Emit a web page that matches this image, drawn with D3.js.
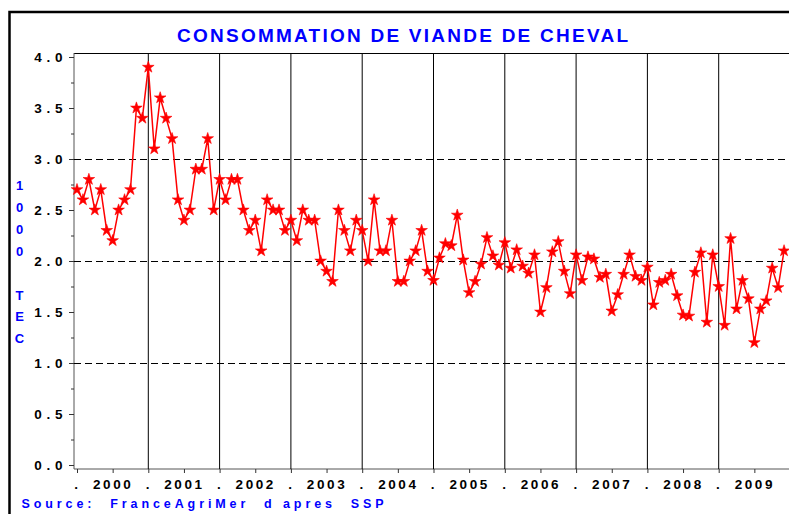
<!DOCTYPE html>
<html>
<head>
<meta charset="utf-8">
<script src="https://cdn.jsdelivr.net/npm/d3@7"></script>
<style>
  body { margin: 0; background: #fff; }
  svg { display: block; font-family: "Liberation Sans", Arial, sans-serif; font-weight: bold; }
</style>
</head>
<body>
<svg id="chart" width="789" height="514"></svg>
<script>
// monthly values, 1000 TEC, jan 2000 -> dec 2009
const startYear = 2000
const v2000 = [2.7, 2.6, 2.8, 2.5, 2.7, 2.3, 2.2, 2.5, 2.6, 2.7, 3.5, 3.4]
const v2001 = [3.9, 3.1, 3.6, 3.4, 3.2, 2.6, 2.4, 2.5, 2.9, 2.9, 3.2, 2.5]
const v2002 = [2.8, 2.6, 2.8, 2.8, 2.5, 2.3, 2.4, 2.1, 2.6, 2.5, 2.5, 2.3]
const v2003 = [2.4, 2.2, 2.5, 2.4, 2.4, 2.0, 1.9, 1.8, 2.5, 2.3, 2.1, 2.4]
const v2004 = [2.3, 2.0, 2.6, 2.1, 2.1, 2.4, 1.8, 1.8, 2.0, 2.1, 2.3, 1.9]
const v2005 = [1.81, 2.03, 2.17, 2.15, 2.45, 2.01, 1.69, 1.80, 1.97, 2.23, 2.05, 1.96]
const v2006 = [2.18, 1.93, 2.11, 1.95, 1.88, 2.06, 1.50, 1.74, 2.09, 2.19, 1.90, 1.68]
const v2007 = [2.06, 1.81, 2.04, 2.02, 1.84, 1.87, 1.51, 1.67, 1.87, 2.06, 1.85, 1.81]
const v2008 = [1.94, 1.57, 1.79, 1.81, 1.87, 1.66, 1.47, 1.46, 1.89, 2.08, 1.40, 2.06]
const v2009 = [1.75, 1.37, 2.22, 1.53, 1.81, 1.63, 1.20, 1.53, 1.61, 1.93, 1.74, 2.10]

const years = [2000, 2001, 2002, 2003, 2004, 2005, 2006, 2007, 2008, 2009]
const yMajor = [0, 0.5, 1, 1.5, 2, 2.5, 3, 3.5, 4]
const yGrid = [1, 2, 3]
const title = "CONSOMMATION DE VIANDE DE CHEVAL"
const yLabel = "1000 TEC"
const source = "Source:  FranceAgriMer  d apres  SSP"

const values = [].concat(v2000, v2001, v2002, v2003, v2004, v2005, v2006, v2007, v2008, v2009)
const data = values.map((v, i) => ({ t: startYear + i / 12, v: v }))

const svg = d3.select('#chart')
const W = 789, H = 514
const plotLeft = 74, plotTop = 53, plotBottom = 469

const x = d3.scaleLinear().domain([2000, 2010]).range([77, 790])
const y = d3.scaleLinear().domain([0, 4]).range([465, 57])

svg.append('rect').attr('width', W).attr('height', H).attr('fill', '#fff')

// outer frame (runs off the right / bottom like the original)
svg.append('rect')
  .attr('x', 9.5).attr('y', 12).attr('width', W + 20).attr('height', H + 20)
  .attr('fill', 'none').attr('stroke', '#000').attr('stroke-width', 2.5)

// title
svg.append('text')
  .attr('x', 177).attr('y', 41.5)
  .attr('textLength', 451).attr('lengthAdjust', 'spacing')
  .attr('fill', '#0000ff').attr('font-size', 19)
  .text(title)

// plot frame lines
svg.append('line').attr('x1', plotLeft).attr('x2', W).attr('y1', plotTop + 0.5).attr('y2', plotTop + 0.5)
  .attr('stroke', '#000')
svg.append('line').attr('x1', plotLeft).attr('x2', W).attr('y1', plotBottom).attr('y2', plotBottom)
  .attr('stroke', '#555')
svg.append('line').attr('x1', plotLeft).attr('x2', plotLeft).attr('y1', plotTop).attr('y2', plotBottom)
  .attr('stroke', '#555')

// horizontal dashed refs
svg.append('g').selectAll('line').data(yGrid).enter().append('line')
  .attr('x1', plotLeft).attr('x2', W)
  .attr('y1', d => y(d) + 0.5).attr('y2', d => y(d) + 0.5)
  .attr('stroke', '#000').attr('stroke-dasharray', '7,4')
  .attr('shape-rendering', 'crispEdges')

// vertical year separators
svg.append('g').selectAll('line').data(years.slice(1)).enter().append('line')
  .attr('x1', d => x(d)).attr('x2', d => x(d))
  .attr('y1', plotTop).attr('y2', plotBottom)
  .attr('stroke', '#000')

// y axis
const yAxis = d3.axisLeft(y).tickValues(yMajor).tickSize(5).tickPadding(6)
  .tickFormat(d => d.toFixed(1).split('').join(' '))
const gy = svg.append('g').attr('transform', 'translate(' + plotLeft + ',0)').call(yAxis)
gy.select('.domain').remove()
gy.selectAll('line').attr('stroke', '#333')
gy.selectAll('text').attr('font-size', 13.5).attr('font-family', '"Liberation Sans", Arial, sans-serif')
  .attr('font-weight', 'bold').attr('fill', '#000').attr('letter-spacing', 0.5)

const yMinor = d3.axisLeft(y).tickValues(yMajor.slice(0, -1).map(d => d + 0.25)).tickSize(3).tickFormat('')
const gym = svg.append('g').attr('transform', 'translate(' + plotLeft + ',0)').call(yMinor)
gym.select('.domain').remove()
gym.selectAll('line').attr('stroke', '#333')

// x axis: dots on year boundaries, year names mid-year
const xTicks = []
years.forEach(yr => { xTicks.push(yr); xTicks.push(yr + 0.5) })
const xAxis = d3.axisBottom(x).tickValues(xTicks).tickSize(4).tickPadding(6)
  .tickFormat(d => Number.isInteger(d) ? '.' : String(Math.floor(d)))
const gx = svg.append('g').attr('transform', 'translate(0,' + plotBottom + ')').call(xAxis)
gx.select('.domain').remove()
gx.selectAll('line').attr('stroke', '#333')
gx.selectAll('text').attr('font-size', 13.5).attr('font-family', '"Liberation Sans", Arial, sans-serif')
  .attr('font-weight', 'bold').attr('fill', '#000').attr('letter-spacing', 2.6)

// y label, one char per line
svg.append('g').selectAll('text').data(yLabel.split('')).enter().append('text')
  .attr('x', 19.5).attr('y', (d, i) => 190 + i * 21.9)
  .attr('text-anchor', 'middle')
  .attr('fill', '#0000ff').attr('font-size', 13)
  .text(d => d)

// source
svg.append('text')
  .attr('x', 21.5).attr('y', 507.5)
  .attr('textLength', 362).attr('lengthAdjust', 'spacing')
  .attr('xml:space', 'preserve').style('white-space', 'pre')
  .attr('fill', '#0000ff').attr('font-size', 12.5)
  .text(source)

// series
const line = d3.line().x(d => x(d.t)).y(d => y(d.v))
svg.append('path').datum(data)
  .attr('d', line).attr('fill', 'none')
  .attr('stroke', '#ff0000').attr('stroke-width', 1.5)

svg.append('g').selectAll('path').data(data).enter().append('path')
  .attr('transform', d => 'translate(' + x(d.t) + ',' + y(d.v) + ')')
  .attr('d', d3.symbol().type(d3.symbolStar).size(42))
  .attr('fill', '#ff0000').attr('stroke', '#ff0000').attr('stroke-width', 0.6)
</script>
</body>
</html>
